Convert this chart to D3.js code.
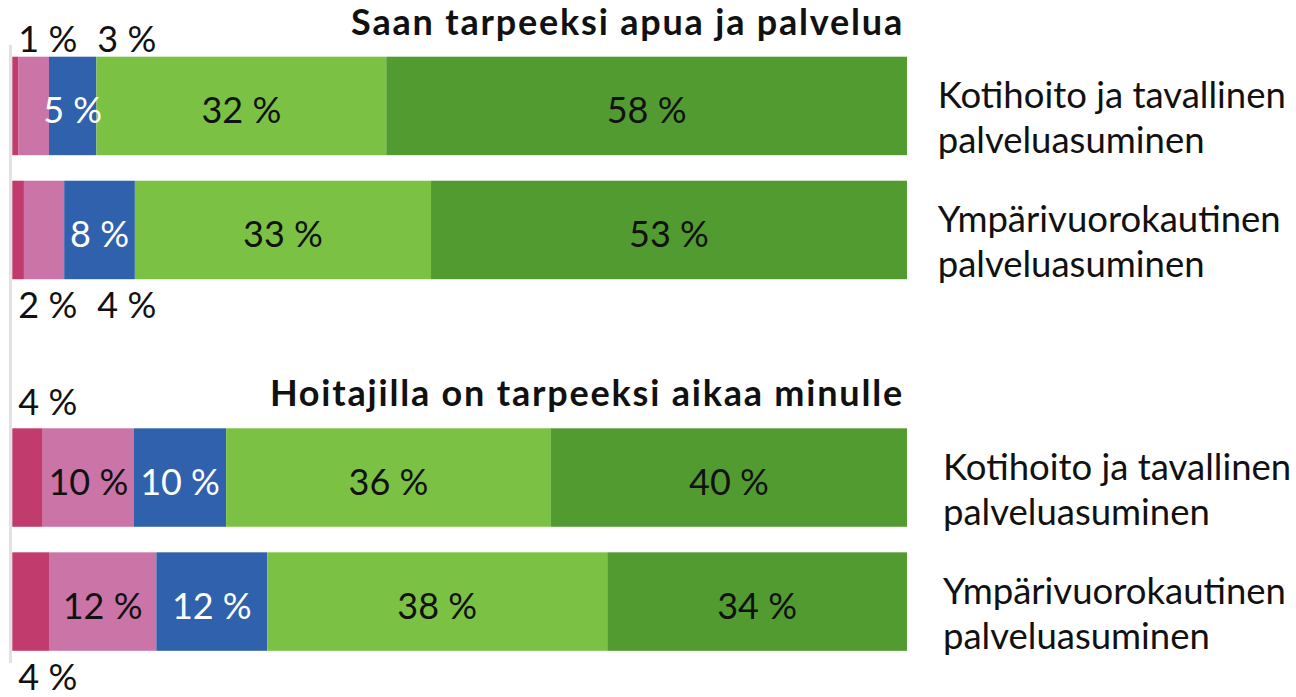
<!DOCTYPE html>
<html>
<head>
<meta charset="utf-8">
<script src="https://cdn.jsdelivr.net/npm/d3@7"></script>
<style>
  body { margin: 0; background: #fff; }
  svg text { font-family: Lato, "Noto Sans", sans-serif; }
</style>
</head>
<body>
<div id="graph"></div>
<script>
// Two questions, two service types each
const questions = ["Saan tarpeeksi apua ja palvelua", "Hoitajilla on tarpeeksi aikaa minulle"];
const services = [["Kotihoito ja tavallinen", "palveluasuminen"], ["Ympärivuorokautinen", "palveluasuminen"]];

// shares (percent, 5 answer classes from worst to best)
const apuaKoti = [0.7, 3.4, 5.3, 32.4, 58.2];
const apuaYmpari = [1.3, 4.5, 7.9, 33.1, 53.2];
const aikaaKoti = [3.4, 10.2, 10.3, 36.3, 39.8];
const aikaaYmpari = [4.1, 12.0, 12.4, 38.0, 33.5];

// printed percentages
const apuaKotiText = [1, 3, 5, 32, 58];
const apuaYmpariText = [2, 4, 8, 33, 53];
const aikaaKotiText = [4, 10, 10, 36, 40];
const aikaaYmpariText = [4, 12, 12, 38, 34];

const colors = ["#c13b6d", "#cb74a8", "#2f61ad", "#7bc143", "#529b30"];
const textColors = ["#111", "#111", "#fff", "#111", "#111"];

const panels = [
  { title: questions[0], rows: [
    { values: apuaKoti, text: apuaKotiText },
    { values: apuaYmpari, text: apuaYmpariText }] },
  { title: questions[1], rows: [
    { values: aikaaKoti, text: aikaaKotiText },
    { values: aikaaYmpari, text: aikaaYmpariText }] }
];

const width = 1296, height = 697;
let svg = d3.select("#graph").append("svg")
  .attr("width", width)
  .attr("height", height);

let xScale = d3.scaleLinear()
  .domain([0, 100])
  .range([12.3, 907]);

// thin grey baseline on the left
svg.append("rect")
  .attr("x", 9).attr("y", 45)
  .attr("width", 3).attr("height", 618)
  .attr("fill", "#e2e2e2");

const panelTops = [56.7, 428.3];
const labelX = [937.7, 943];
const aboveGap = [5, 13];

panels.forEach(function (panel, p) {
  let g = svg.append("g");

  let yScale = d3.scaleBand()
    .domain([0, 1])
    .range([panelTops[p], panelTops[p] + 222.5])
    .paddingInner(0.206);

  g.append("text")
    .attr("x", 904)
    .attr("y", panelTops[p] - 22)
    .attr("text-anchor", "end")
    .attr("font-size", 36)
    .attr("font-weight", 700)
    .attr("letter-spacing", 1.8)
    .attr("fill", "#111")
    .text(panel.title);

  panel.rows.forEach(function (row, r) {
    let stack = [];
    let acc = 0;
    row.values.forEach(function (v, i) {
      stack.push({ x0: acc, x1: acc + v, i: i, label: row.text[i] + " %" });
      acc += v;
    });

    let y = yScale(r), bh = yScale.bandwidth();

    g.selectAll(".seg" + r)
      .data(stack)
      .enter()
      .append("rect")
      .attr("x", d => xScale(d.x0))
      .attr("y", y)
      .attr("width", d => xScale(d.x1) - xScale(d.x0))
      .attr("height", bh)
      .attr("fill", d => colors[d.i]);

    // labels inside bigger segments
    g.selectAll(".in" + r)
      .data(stack.filter(d => d.x1 - d.x0 >= 5))
      .enter()
      .append("text")
      .attr("x", d => (xScale(d.x0) + xScale(d.x1)) / 2)
      .attr("y", y + bh / 2 + 17)
      .attr("text-anchor", "middle")
      .attr("font-size", 36)
      .attr("fill", d => textColors[d.i])
      .text(d => d.label);

    // small segments get their labels above (first row) or below (second row)
    let small = stack.filter(d => d.x1 - d.x0 < 5);
    let outY = r === 0 ? y - aboveGap[p] : y + bh + 39;
    g.selectAll(".out" + r)
      .data(small)
      .enter()
      .append("text")
      .attr("x", (d, k) => xScale(0) + 6 + k * 79)
      .attr("y", outY)
      .attr("font-size", 36)
      .attr("fill", "#111")
      .text(d => d.label);

    // service type on the right
    let lab = g.append("text")
      .attr("x", labelX[p])
      .attr("y", y + bh / 2 + 2)
      .attr("font-size", 36.5)
      .attr("fill", "#111");
    lab.selectAll("tspan")
      .data(services[r])
      .enter()
      .append("tspan")
      .attr("x", labelX[p])
      .attr("dy", (d, k) => k === 0 ? 0 : 45)
      .text(d => d);
  });
});
</script>
</body>
</html>
